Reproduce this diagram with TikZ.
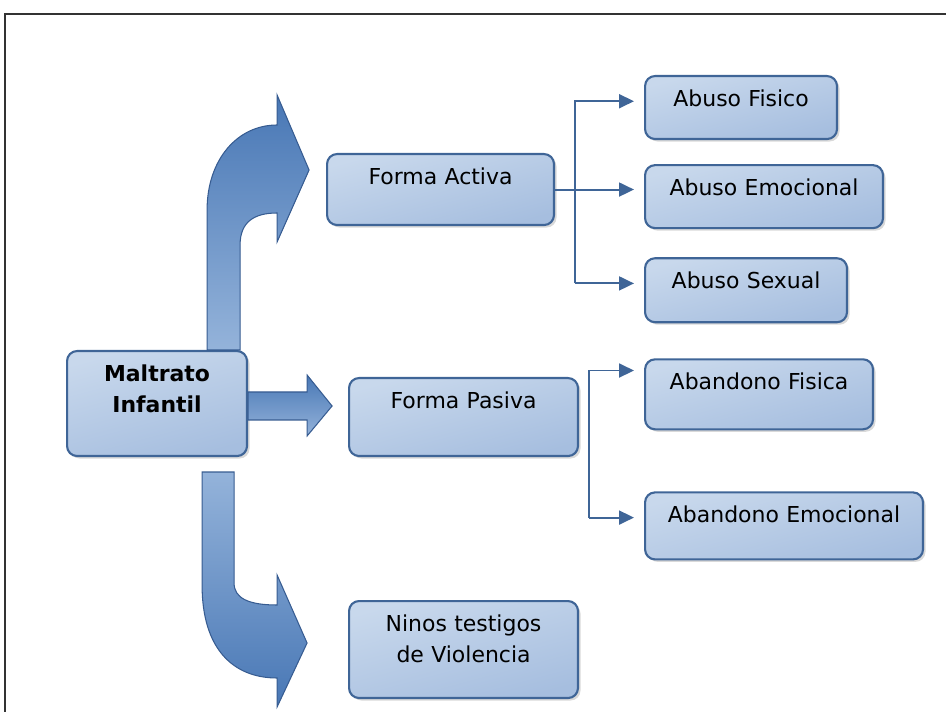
\documentclass[tikz,border=0pt]{standalone}
\usepackage{fontspec}
\setmainfont{DejaVu Sans}
\usetikzlibrary{positioning,calc,shadows,arrows.meta}

\definecolor{cajaBorde}{RGB}{63,101,151}
\definecolor{cajaArriba}{RGB}{200,216,236}
\definecolor{cajaMedio}{RGB}{227,235,246}
\definecolor{cajaAbajo}{RGB}{166,190,223}
\definecolor{flechaOscura}{RGB}{72,119,181}
\definecolor{flechaClara}{RGB}{148,179,218}
\definecolor{flechaBorde}{RGB}{55,92,145}

\tikzset{
  caja/.style 2 args={draw=cajaBorde, line width=1.2pt, rounded corners=0.2cm,
    top color=cajaArriba, middle color=cajaMedio, bottom color=cajaAbajo, shading angle=15,
    drop shadow={shadow xshift=0.05cm, shadow yshift=-0.05cm, opacity=0.3},
    inner sep=0pt, text width=#1, align=center, text height=0.6cm, text depth=#2,
    anchor=north west, font=\fontsize{12.5}{18}\selectfont},
  conector/.style={draw=cajaBorde, line width=1.1pt},
  flechita/.style={conector, -{Triangle[length=0.3cm,width=0.28cm]}, shorten >=0.2cm},
  gorda/.style={draw=flechaBorde, line width=0.6pt},
  marco/.style={draw=black!80, line width=1.2pt}
}

\begin{document}
\begin{tikzpicture}[x=0.02cm, y=-0.02cm]
  \useasboundingbox (0,0) rectangle (946,712);
  \draw[marco] (5,730) -- (5,14) -- (960,14);

  \node[caja={3.6cm}{1.5cm}, font=\fontsize{12.5}{18}\selectfont\bfseries] (maltrato) at (66,350) {Maltrato\\Infantil};
  \node[caja={4.54cm}{0.82cm}] (activa) at (326,153) {Forma Activa};
  \node[caja={4.58cm}{0.96cm}] (pasiva) at (348,377) {Forma Pasiva};
  \node[caja={4.58cm}{1.34cm}] (ninos) at (348,600) {Ninos testigos\\de Violencia};

  \node[caja={3.84cm}{0.66cm}] (fisico) at (644,75) {Abuso Fisico};
  \node[caja={4.76cm}{0.66cm}, below=0.48cm of fisico.south west, anchor=north west] (emocional) {Abuso Emocional};
  \node[caja={4.04cm}{0.68cm}, below=0.56cm of emocional.south west, anchor=north west] (sexual) {Abuso Sexual};
  \node[caja={4.56cm}{0.8cm}, below=0.7cm of sexual.south west, anchor=north west] (abfisica) {Abandono Fisica};
  \node[caja={5.56cm}{0.74cm}, below=1.22cm of abfisica.south west, anchor=north west] (abemocional) {Abandono Emocional};

  % flechas gordas, medidas desde la esquina de maltrato
  \begin{scope}[shift={(maltrato.north east)}]
    \draw[gorda, top color=flechaOscura, bottom color=flechaClara]
      (-41,0) -- (-41,-140) .. controls (-41,-190) and (-11,-225) .. (29,-225)
      -- (29,-255) -- (61,-180) -- (29,-108) -- (29,-137)
      .. controls (6,-137) and (-8,-128) .. (-8,-105) -- (-8,0) -- cycle;
    \draw[gorda, top color=flechaOscura, bottom color=flechaClara]
      (0,42) -- (59,42) -- (59,25) -- (84,56) -- (59,86) -- (59,70) -- (0,70) -- cycle;
    \draw[gorda, top color=flechaClara, bottom color=flechaOscura]
      (-46,122) -- (-46,235) .. controls (-46,300) and (-14,328) .. (29,328)
      -- (29,357) -- (59,293) -- (29,225) -- (29,255)
      .. controls (0,255) and (-14,248) .. (-14,233) -- (-14,122) -- cycle;
  \end{scope}

  % forma activa
  \coordinate (barraA) at ($(activa.east)+(20,0)$);
  \draw[flechita] (barraA |- sexual.mid west) |- (fisico.mid west);
  \draw[flechita] (activa.east) -- (activa.east -| emocional.west);
  \draw[flechita] (barraA |- sexual.mid west) -- (sexual.mid west);

  % forma pasiva
  \coordinate (barraP) at ($(pasiva.east)+(10,0)$);
  \coordinate (entradaF) at ([yshift=0.28cm]abfisica.mid west);
  \draw[flechita] (barraP |- abemocional.mid west) |- (entradaF);
  \draw[flechita] (barraP |- abemocional.mid west) -- (abemocional.mid west);
\end{tikzpicture}
\end{document}
